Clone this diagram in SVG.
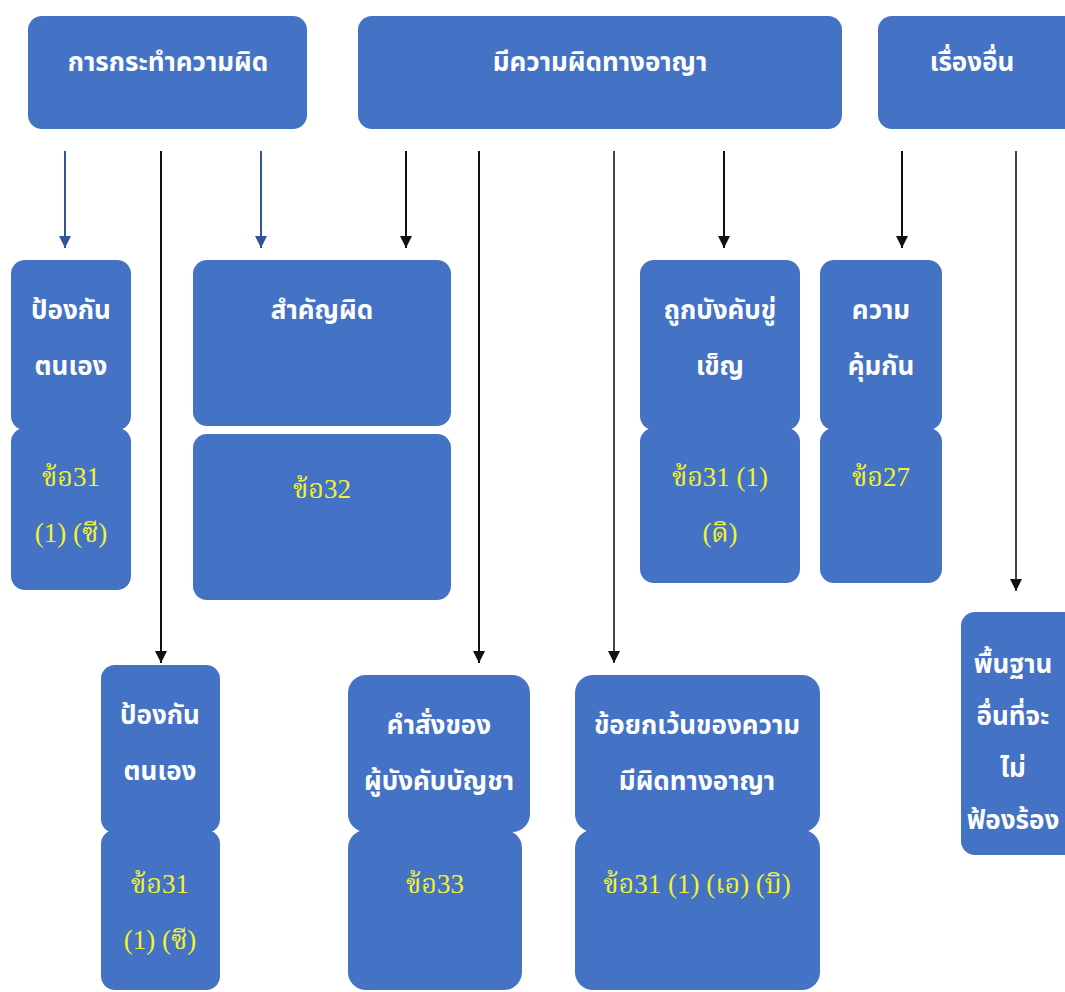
<svg xmlns="http://www.w3.org/2000/svg" width="1065" height="992" viewBox="0 0 1065 992">
<style>
.box{fill:#4472C4;}
.t{fill:#FFFFFF;font-family:"Noto Sans Thai","Loma","Garuda","Tlwg Typo","DejaVu Sans",sans-serif;font-size:26px;font-weight:bold;text-anchor:middle;}
.y{fill:#F2F230;font-family:"Liberation Serif","Noto Serif Thai","Noto Sans Thai","Loma",serif;font-size:27px;text-anchor:middle;}
.cb{stroke:#2F5597;stroke-width:2;fill:none;}
.ck{stroke:#111111;stroke-width:2;fill:none;}
</style>
<defs>
<marker id="ak" markerWidth="12" markerHeight="12" refX="12" refY="6" orient="auto" markerUnits="userSpaceOnUse" viewBox="0 0 12 12"><path d="M0,0 L12,6 L0,12 Z" fill="#111111"/></marker>
<marker id="ab2" markerWidth="12" markerHeight="12" refX="12" refY="6" orient="auto" markerUnits="userSpaceOnUse" viewBox="0 0 12 12"><path d="M0,0 L12,6 L0,12 Z" fill="#2F5597"/></marker>
</defs>
<g id="connectors">
<line class="cb" x1="65" y1="151" x2="65" y2="248" marker-end="url(#ab2)"/>
<line class="ck" x1="161" y1="151" x2="161" y2="663" marker-end="url(#ak)"/>
<line class="cb" x1="261" y1="151" x2="261" y2="248" marker-end="url(#ab2)"/>
<line class="ck" x1="406" y1="151" x2="406" y2="248" marker-end="url(#ak)"/>
<line class="ck" x1="479" y1="151" x2="479" y2="663" marker-end="url(#ak)"/>
<line class="ck" x1="614" y1="151" x2="614" y2="663" marker-end="url(#ak)" style="stroke:#444"/>
<line class="ck" x1="724" y1="151" x2="724" y2="248" marker-end="url(#ak)"/>
<line class="ck" x1="902" y1="151" x2="902" y2="248" marker-end="url(#ak)"/>
<line class="ck" x1="1016" y1="151" x2="1016" y2="591" marker-end="url(#ak)" style="stroke:#444"/>
</g>
<g id="n-action"><rect class="box" x="28" y="16" width="279" height="113" rx="14"/><text class="t" x="168" y="71">การกระทำความผิด</text></g>
<g id="n-criminal"><rect class="box" x="358" y="16" width="484" height="113" rx="14"/><text class="t" x="600" y="71">มีความผิดทางอาญา</text></g>
<g id="n-other"><rect class="box" x="878" y="16" width="200" height="113" rx="14"/><text class="t" x="972" y="71">เรื่องอื่น</text></g>
<g id="n-self1"><rect class="box" x="11" y="260" width="120" height="170" rx="14"/><rect class="box" x="11" y="428" width="120" height="162" rx="14"/><text class="t" x="71" y="319">ป้องกัน</text><text class="t" x="71" y="375">ตนเอง</text><text class="y" x="71" y="486">ข้อ31</text><text class="y" x="71" y="542">(1) (ซี)</text></g>
<g id="n-mistake"><rect class="box" x="193" y="260" width="258" height="166" rx="14"/><rect class="box" x="193" y="434" width="258" height="166" rx="14"/><text class="t" x="322" y="319">สำคัญผิด</text><text class="y" x="322" y="498">ข้อ32</text></g>
<g id="n-duress"><rect class="box" x="640" y="260" width="160" height="170" rx="14"/><rect class="box" x="640" y="428" width="160" height="155" rx="14"/><text class="t" x="720" y="319">ถูกบังคับขู่</text><text class="t" x="720" y="375">เข็ญ</text><text class="y" x="720" y="486">ข้อ31 (1)</text><text class="y" x="720" y="542">(ดิ)</text></g>
<g id="n-immunity"><rect class="box" x="820" y="260" width="122" height="170" rx="14"/><rect class="box" x="820" y="428" width="122" height="155" rx="14"/><text class="t" x="881" y="319">ความ</text><text class="t" x="881" y="375">คุ้มกัน</text><text class="y" x="881" y="486">ข้อ27</text></g>
<g id="n-self2"><rect class="box" x="101" y="665" width="119" height="168" rx="14"/><rect class="box" x="101" y="830" width="119" height="160" rx="14"/><text class="t" x="160" y="724">ป้องกัน</text><text class="t" x="160" y="780">ตนเอง</text><text class="y" x="160" y="893">ข้อ31</text><text class="y" x="160" y="949">(1) (ซี)</text></g>
<g id="n-order"><rect class="box" x="348" y="675" width="182" height="157" rx="18"/><rect class="box" x="348" y="830" width="174" height="160" rx="18"/><text class="t" x="439" y="734">คำสั่งของ</text><text class="t" x="439" y="790">ผู้บังคับบัญชา</text><text class="y" x="435" y="893">ข้อ33</text></g>
<g id="n-exception"><rect class="box" x="575" y="675" width="245" height="157" rx="18"/><rect class="box" x="575" y="830" width="245" height="160" rx="18"/><text class="t" x="697" y="734">ข้อยกเว้นของความ</text><text class="t" x="697" y="790">มีผิดทางอาญา</text><text class="y" x="697" y="893">ข้อ31 (1) (เอ) (บิ)</text></g>
<g id="n-grounds"><rect class="box" x="961" y="612" width="120" height="243" rx="14"/><text class="t" x="1013" y="673">พื้นฐาน</text><text class="t" x="1013" y="725">อื่นที่จะ</text><text class="t" x="1013" y="777">ไม่</text><text class="t" x="1013" y="829">ฟ้องร้อง</text></g>
</svg>
